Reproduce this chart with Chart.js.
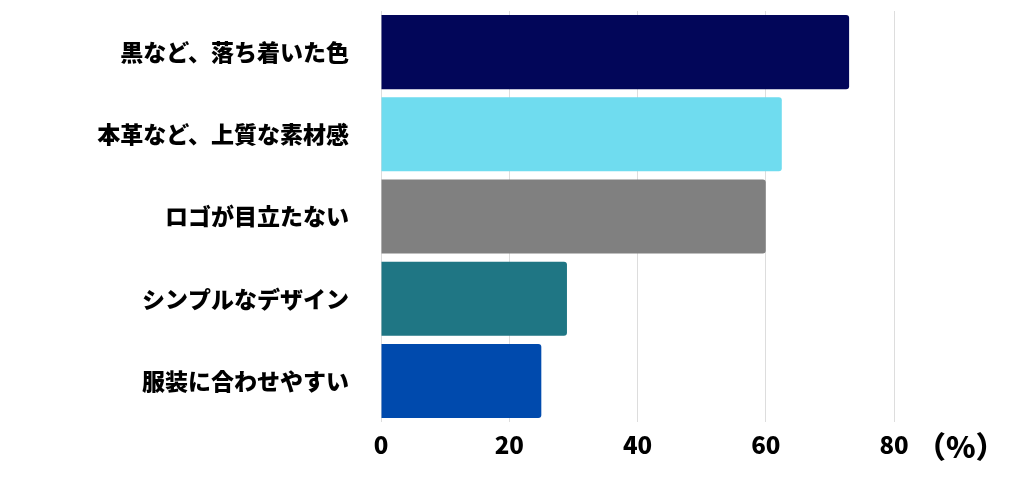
<!DOCTYPE html>
<html><head><meta charset="utf-8">
<script src="https://cdn.jsdelivr.net/npm/chart.js@4"></script>
<style>html,body{margin:0;padding:0;background:#fff}#w{width:1024px;height:493px}</style>
</head><body><div id="w"><canvas id="c"></canvas></div>
<script>
const categories = ["黒など、落ち着いた色","本革など、上質な素材感","ロゴが目立たない","シンプルなデザイン","服装に合わせやすい"];
const values = [73, 62.5, 60, 29, 25];
const barColors = ["#020659","#6fdcef","#808080","#1f7684","#004aad"];
const xTicks = [0,20,40,60,80];
const unitLabel = "（%）";

const unitPlugin = {id:'unit', afterDraw(chart){
  const c=chart.ctx, x=chart.scales.x;
  c.save(); c.font='900 30px "Noto Sans CJK JP"'; c.fillStyle='#000'; c.textBaseline='middle';
  c.fillText(unitLabel, x.right+22, 447); c.restore();
}};
new Chart(document.getElementById('c'), {
  type:'bar',
  data:{labels:categories, datasets:[{data:values, backgroundColor:barColors, borderRadius:{topRight:3,bottomRight:3}, borderSkipped:false, barPercentage:0.9, categoryPercentage:1}]},
  options:{indexAxis:'y', responsive:true, maintainAspectRatio:false, animation:false,
    layout:{padding:{top:11,right:130,bottom:26,left:0}},
    plugins:{legend:{display:false}, tooltip:{enabled:false}},
    scales:{
      x:{min:0,max:80, afterBuildTicks(s){s.ticks=xTicks.map(v=>({value:v}));},
        afterFit(s){s.paddingLeft=0;s.paddingRight=0;},
        grid:{color:'#dddddd', drawTicks:false}, border:{display:false},
        ticks:{color:'#000', padding:8, font:{family:'"Noto Sans CJK JP"', size:24, weight:'900'}}},
      y:{grid:{display:false}, border:{display:false},
        afterFit(s){s.width=381;s.paddingTop=0;s.paddingBottom=0;},
        ticks:{color:'#000', padding:24, font:{family:'"Noto Sans CJK JP"', size:23, weight:'900'}}}
    }},
  plugins:[unitPlugin]
});
</script></body></html>
